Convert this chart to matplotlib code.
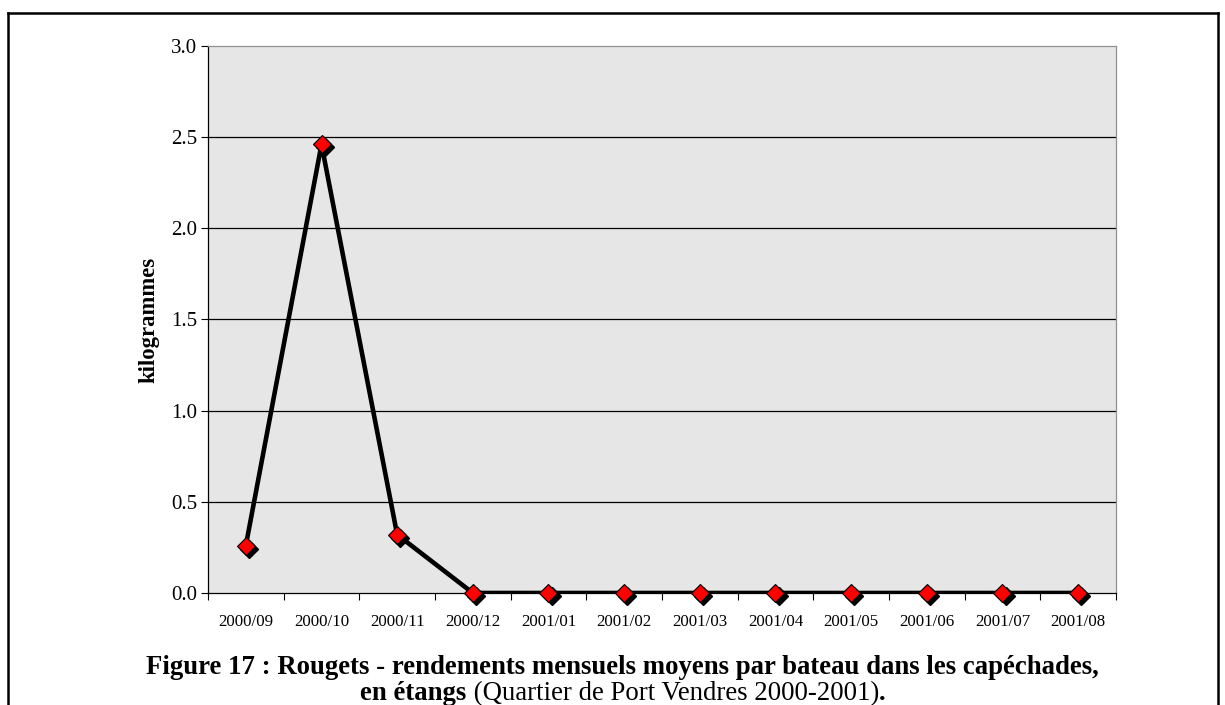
import numpy as np
import matplotlib.pyplot as plt
import matplotlib.transforms as mtransforms
from matplotlib.lines import Line2D

plt.rcParams['font.family'] = ['Liberation Serif', 'DejaVu Serif']

mois = ['2000/09', '2000/10', '2000/11', '2000/12', '2001/01', '2001/02',
        '2001/03', '2001/04', '2001/05', '2001/06', '2001/07', '2001/08']
rendement = [0.26, 2.46, 0.32, 0.0, 0.0, 0.0, 0.0, 0.0, 0.0, 0.0, 0.0, 0.0]
y_ticks = [0.0, 0.5, 1.0, 1.5, 2.0, 2.5, 3.0]

fig = plt.figure(figsize=(12.25, 7.05), dpi=100)
ax = fig.add_axes([0.1698, 0.1589, 0.7412, 0.7759])
ax.set_facecolor('#e6e6e6')

x = np.arange(len(mois))
# ombre des marqueurs
ombre = mtransforms.offset_copy(ax.transData, fig=fig, x=2.2, y=-2.2, units='points')
ax.plot(x, rendement, color='black', lw=3.3, zorder=3, solid_joinstyle='miter')
ax.plot(x, rendement, ls='none', marker='D', ms=9, color='black',
        transform=ombre, zorder=4, clip_on=False)
ax.plot(x, rendement, ls='none', marker='D', ms=9, mfc='#ff0000', mec='black',
        mew=0.8, zorder=5, clip_on=False)

ax.set_xlim(-0.5, len(mois) - 0.5)
ax.set_ylim(0, 3.0)
ax.set_yticks(y_ticks)
ax.set_yticklabels([f'{v:.1f}' for v in y_ticks], fontsize=15)
ax.set_xticks(x)
ax.set_xticklabels(mois, fontsize=12.2)
ax.set_xticks(np.arange(len(mois) + 1) - 0.5, minor=True)
ax.tick_params(axis='x', which='major', length=0, pad=15)
ax.tick_params(axis='x', which='minor', length=5, direction='out', width=0.8)
ax.tick_params(axis='y', length=5, direction='out', width=0.8, pad=3)
for v in y_ticks[1:-1]:
    ax.axhline(v, color='black', lw=0.9, zorder=1)

ax.spines['left'].set_color('black')
ax.spines['bottom'].set_color('black')
ax.spines['top'].set_color('#909090')
ax.spines['right'].set_color('#909090')
for s in ax.spines.values():
    s.set_linewidth(0.9)

ax.set_ylabel('kilogrammes', fontsize=16.3, fontweight='bold', labelpad=8)

# cadre
fig.add_artist(Line2D([8/1225, 8/1225], [0, 1 - 13/705], color='black', lw=1.8))
fig.add_artist(Line2D([8/1225, 1218/1225], [1 - 13/705, 1 - 13/705], color='black', lw=1.8))
fig.add_artist(Line2D([1218/1225, 1218/1225], [0, 1 - 13/705], color='black', lw=1.8))

# légende de la figure
fig.text(622/1225, 1 - 674/705,
         'Figure 17 : Rougets - rendements mensuels moyens par bateau dans les capéchades,',
         ha='center', va='baseline', fontsize=19.3, fontweight='bold')
fig.canvas.draw()
r = fig.canvas.get_renderer()
parts = [('en étangs', 'bold'), (' (Quartier de Port Vendres 2000-2001)', 'normal'), ('.', 'bold')]
objs = [fig.text(0, 1 - 700/705, t, ha='left', va='baseline', fontsize=19.3, fontweight=w)
        for t, w in parts]
widths = [o.get_window_extent(r).width for o in objs]
x0 = 623 - sum(widths) / 2
for o, w in zip(objs, widths):
    o.set_x(x0 / 1225)
    x0 += w

fig.savefig('out.png', dpi=100)
